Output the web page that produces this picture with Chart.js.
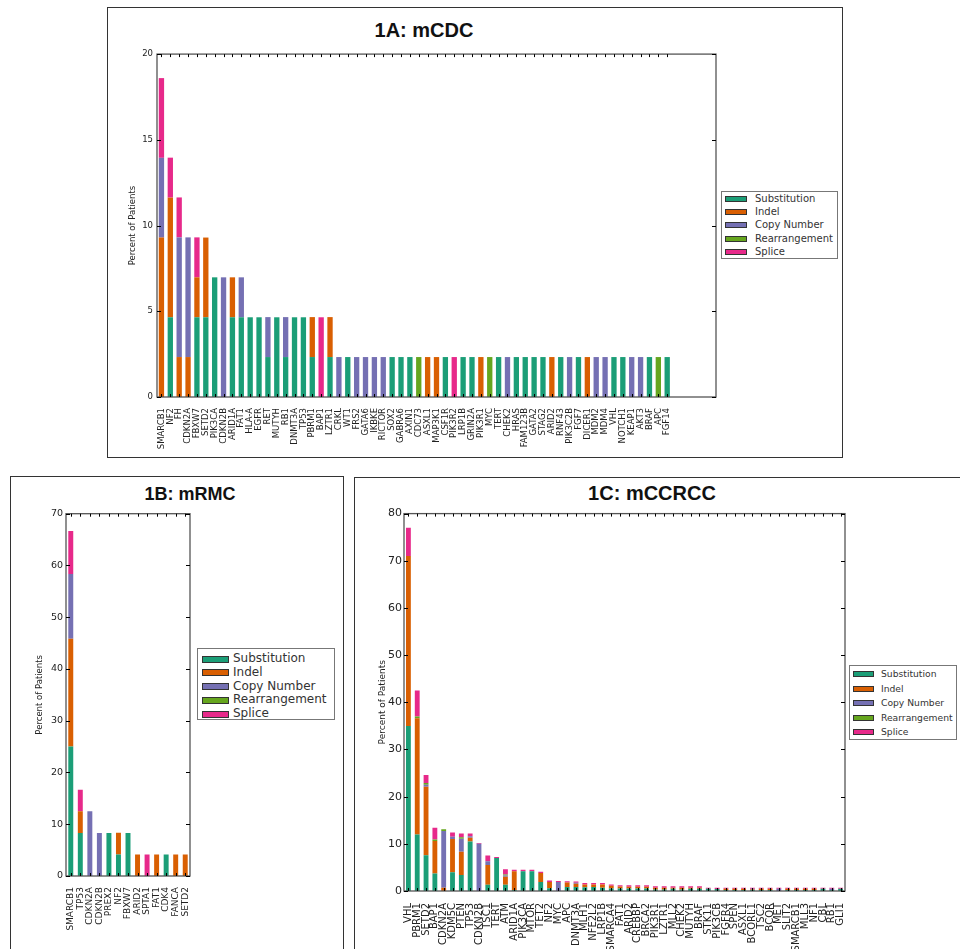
<!DOCTYPE html>
<html>
<head>
<meta charset="utf-8">
<script src="https://cdn.jsdelivr.net/npm/chart.js@4/dist/chart.umd.min.js"></script>
<style>
  body { margin: 0; background: #fff; width: 960px; height: 949px; overflow: hidden; position: relative; font-family: 'DejaVu Sans', sans-serif; }
  .panel { position: absolute; border: 1.5px solid #333; box-sizing: border-box; }
  .title { position: absolute; font-family: 'Liberation Sans', Arial, sans-serif; font-weight: bold; color: #111; transform: translate(-50%, -50%); white-space: nowrap; }
  canvas { position: absolute; }
  .legend { position: absolute; border: 1px solid #777; background: #fff; box-sizing: border-box; color: #333; }
  .legend .row { position: absolute; white-space: nowrap; }
  .legend .sw { position: absolute; border: 0.8px solid #333; box-sizing: border-box; }
</style>
</head>
<body>
<div class="panel" style="left:107px; top:7px; width:736px; height:451px;"></div>
<div class="panel" style="left:10px; top:476px; width:334px; height:480px;"></div>
<div class="panel" style="left:354px; top:477px; width:612px; height:480px;"></div>

<div class="title" style="left:424px; top:30px; font-size:20px;">1A: mCDC</div>
<div class="title" style="left:190px; top:494px; font-size:18px;">1B: mRMC</div>
<div class="title" style="left:652px; top:493px; font-size:20px;">1C: mCCRCC</div>

<canvas id="chartA" width="606" height="412" style="left:112px; top:45px;"></canvas>
<canvas id="chartB" width="178" height="444" style="left:14px; top:505px;"></canvas>
<canvas id="chartC" width="489" height="444" style="left:358px; top:505px;"></canvas>

<div id="legA" class="legend" style="left:721px; top:191px; width:117px; height:68px;"></div>
<div id="legB" class="legend" style="left:197px; top:648px; width:138px; height:72px;"></div>
<div id="legC" class="legend" style="left:849px; top:665px; width:108px; height:75px;"></div>

<script>
// mutation types and colours
const types = ['Substitution', 'Indel', 'Copy Number', 'Rearrangement', 'Splice'];
const colors = ['#1b9e77', '#d95f02', '#7570b3', '#66a61e', '#e7298a'];

// 1A: mCDC (percent of patients)
const genesA = ['SMARCB1','NF2','FH','CDKN2A','FBXW7','SETD2','PIK3CA','CDKN2B','ARID1A','FAT1','HLA-A','EGFR','RET','MUTYH','RB1','DNMT3A','TP53','PBRM1','BAP1','LZTR1',
  'CRKL','WT1','FRS2','GATA6','IKBKE','RICTOR','SOX2','GABRA6','AXIN1','CDC73','ASXL1','MAP3K1','CSF1R','PIK3R2','LRP1B','GRIN2A','PIK3R1','MYC','TERT','CHEK2',
  'HRAS','FAM123B','GATA2','STAG2','ARID2','RNF43','PIK3C2B','FGF7','DICER1','MDM2','MDM4','VHL','NOTCH1','KEAP1','AKT3','BRAF','APC','FGF14'];
const subA = [0,4.65,0,0,4.65,4.65,6.98,0,4.65,4.65,4.65,4.65,2.33,4.65,2.33,4.65,4.65,2.33,0,2.33,
  0,2.33,0,0,0,0,2.33,2.33,2.33,0,0,0,2.33,0,2.33,2.33,0,0,2.33,0,
  2.33,2.33,2.33,2.33,0,2.33,0,2.33,0,0,0,2.33,2.33,0,0,2.33,0,2.33];
const indelA = [9.30,6.98,2.33,2.33,2.33,4.65,0,0,2.33,0,0,0,0,0,0,0,0,2.33,0,2.33,
  0,0,0,0,0,0,0,0,0,0,2.33,2.33,0,0,0,0,2.33,0,0,0,
  0,0,0,0,2.33,0,0,0,2.33,0,0,0,0,0,0,0,0,0];
const cnA = [4.65,0,6.98,6.98,0,0,0,6.98,0,2.33,0,0,2.33,0,2.33,0,0,0,0,0,
  2.33,0,2.33,2.33,2.33,2.33,0,0,0,0,0,0,0,0,0,0,0,0,0,2.33,
  0,0,0,0,0,0,2.33,0,0,2.33,2.33,0,0,2.33,2.33,0,0,0];
const rearrA = [0,0,0,0,0,0,0,0,0,0,0,0,0,0,0,0,0,0,0,0,
  0,0,0,0,0,0,0,0,0,2.33,0,0,0,0,0,0,0,2.33,0,0,
  0,0,0,0,0,0,0,0,0,0,0,0,0,0,0,0,2.33,0];
const spliceA = [4.65,2.33,2.33,0,2.33,0,0,0,0,0,0,0,0,0,0,0,0,0,4.65,0,
  0,0,0,0,0,0,0,0,0,0,0,0,0,2.33,0,0,0,0,0,0,
  0,0,0,0,0,0,0,0,0,0,0,0,0,0,0,0,0,0];

// 1B: mRMC
const genesB = ['SMARCB1','TP53','CDKN2A','CDKN2B','PREX2','NF2','FBXW7','ARID2','SPTA1','FAT1','CDK4','FANCA','SETD2'];
const subB    = [25, 8.33, 0, 0, 8.33, 4.17, 8.33, 0, 0, 0, 4.17, 0, 0];
const indelB  = [20.83, 4.17, 0, 0, 0, 4.17, 0, 4.17, 0, 4.17, 0, 4.17, 4.17];
const cnB     = [12.5, 0, 12.5, 8.33, 0, 0, 0, 0, 0, 0, 0, 0, 0];
const rearrB  = [0, 0, 0, 0, 0, 0, 0, 0, 0, 0, 0, 0, 0];
const spliceB = [8.33, 4.17, 0, 0, 0, 0, 0, 0, 4.17, 0, 0, 0, 0];

// 1C: mCCRCC
const genesC = ['VHL','PBRM1','SETD2','BAP1','CDKN2A','KDM5C','PTEN','TP53','CDKN2B','TSC1','TERT','ATM','ARID1A','PIK3CA','MTOR','TET2','NF2','MYC','APC','DNMT3A',
  'MLH1','NFE2L2','LRP1B','SMARCA4','FAT1','ARID2','CREBBP','BRCA2','PIK3R1','LZTR1','MLL2','CHEK2','MUTYH','BRAF','STK11','PIK3CB','FGFR4','SPEN','ASXL1','BCORL1',
  'TSC2','BCOR','MET','SLIT2','SMARCB1','MLL3','NF1','CBL','RB1','GLI1'];
const subC = [35,12,7.6,3.7,0,4,3.4,10.5,0,1.3,7,1.3,0.2,4.2,4.2,1.9,0.6,0,0.85,0.85,
  0.8,0.85,0.7,0.55,0.55,0.55,0.55,0.55,0.3,0.3,0.5,0.3,0.5,0.5,0.5,0.45,0.2,0.2,0.2,0.2,
  0.2,0.2,0,0.2,0.2,0.2,0.2,0.5,0.2,0.5];
const indelC = [36,24.6,14.5,6.9,0.7,7,4.9,0.8,0,4.2,0,1.7,4,0,0,1.9,1.3,0,0.95,0.7,
  0.6,0.55,0.7,0.55,0.4,0.35,0.35,0.35,0.4,0.4,0.2,0.4,0.2,0.2,0,0,0.3,0.3,0.3,0.1,
  0.3,0.3,0,0.3,0.3,0.3,0.3,0,0,0];
const cnC = [0,0,0.4,0,12,0.5,2.8,0.3,10,0.8,0,0.3,0,0,0,0,0,1.9,0,0.2,
  0,0,0,0,0,0,0,0,0,0,0,0,0,0,0,0,0,0,0,0.2,
  0,0,0.5,0,0,0,0,0,0.3,0];
const rearrC = [0,0.4,0.4,0.3,0.4,0,0.3,0,0,0,0,0.2,0,0,0,0,0,0,0,0,
  0,0,0,0,0,0,0,0,0,0,0,0,0,0,0,0,0,0,0,0,
  0,0,0,0,0,0,0,0,0,0];
const spliceC = [6,5.5,1.7,2.5,0,0.9,0.8,0.6,0.2,1.2,0.2,1.1,0.3,0.3,0.3,0.3,0.3,0.2,0.25,0.25,
  0.3,0.3,0.3,0.3,0.25,0.3,0.3,0.3,0.3,0.3,0.3,0.3,0.3,0.3,0.2,0.25,0.2,0.2,0.2,0.2,
  0.2,0.2,0.2,0.2,0.2,0.2,0.2,0.2,0.2,0.2];

const framePlugin = {
  id: 'frame',
  afterDraw(chart) {
    const ctx = chart.ctx, a = chart.chartArea, sx = chart.scales.x, sy = chart.scales.y;
    ctx.save();
    ctx.strokeStyle = '#555';
    ctx.lineWidth = 1.3;
    ctx.strokeRect(a.left, a.top, a.right - a.left, a.bottom - a.top);
    ctx.strokeStyle = '#000';
    ctx.lineWidth = 1;
    ctx.beginPath();
    sx.ticks.forEach((t, i) => {
      if (!chart.data.labels[i]) return;
      const x = Math.round(sx.getPixelForTick(i)) + 0.5;
      ctx.moveTo(x, a.bottom); ctx.lineTo(x, a.bottom - 3);
      ctx.moveTo(x, a.top); ctx.lineTo(x, a.top + 3);
    });
    sy.ticks.forEach((t, i) => {
      const y = Math.round(sy.getPixelForTick(i)) + 0.5;
      ctx.moveTo(a.left, y); ctx.lineTo(a.left + 4, y);
      ctx.moveTo(a.right, y); ctx.lineTo(a.right - 4, y);
    });
    ctx.stroke();
    ctx.restore();
  }
};

function makeChart(id, labels, series, cfg) {
  const datasets = series.map((d, k) => ({
    label: types[k],
    data: d,
    backgroundColor: colors[k],
    borderWidth: 0,
    barPercentage: cfg.bar,
    categoryPercentage: 1.0
  }));
  return new Chart(document.getElementById(id).getContext('2d'), {
    type: 'bar',
    data: { labels: labels, datasets: datasets },
    options: {
      responsive: false,
      animation: false,
      layout: { padding: { top: 8, right: 2, left: 0, bottom: 0 } },
      plugins: { legend: { display: false }, tooltip: { enabled: false } },
      scales: {
        x: {
          stacked: true,
          grid: { display: false },
          border: { display: false },
          ticks: {
            autoSkip: false, minRotation: 90, maxRotation: 90, padding: cfg.xPad,
            color: '#222', font: { family: 'DejaVu Sans', size: cfg.xFont }
          },
          afterFit: s => { s.height = cfg.xHeight; s.paddingLeft = 0; s.paddingRight = 0; }
        },
        y: {
          stacked: true,
          min: 0, max: cfg.yMax,
          grid: { display: false, drawTicks: false },
          border: { display: false },
          ticks: {
            stepSize: cfg.yStep, padding: cfg.yPad,
            color: '#222', font: { family: 'DejaVu Sans', size: cfg.yFont }
          },
          title: {
            display: true, text: 'Percent of Patients', color: '#222',
            font: { family: 'DejaVu Sans', size: cfg.titleFont },
            padding: { top: cfg.titlePad, bottom: 0 }
          },
          afterFit: s => { s.width = cfg.yWidth; }
        }
      }
    },
    plugins: [framePlugin]
  });
}

function makeLegend(id, cfg) {
  const box = document.getElementById(id);
  types.forEach((t, k) => {
    const y = cfg.first + k * cfg.step;
    const sw = document.createElement('div');
    sw.className = 'sw';
    sw.style.cssText = `left:${cfg.swLeft}px; top:${y - cfg.swH / 2}px; width:${cfg.swW}px; height:${cfg.swH}px; background:${colors[k]};`;
    box.appendChild(sw);
    const row = document.createElement('div');
    row.className = 'row';
    row.textContent = t;
    row.style.cssText = `left:${cfg.textLeft}px; top:${y}px; font-size:${cfg.font}px; transform: translateY(-55%);`;
    box.appendChild(row);
  });
}

const labelsA = genesA.concat(['', '', '', '', '']);
makeChart('chartA', labelsA, [subA, indelA, cnA, rearrA, spliceA],
  { bar: 0.6, xFont: 8.5, xPad: 3, xHeight: 60, yMax: 20, yStep: 5, yFont: 8.5, yPad: 4, yWidth: 45, titleFont: 8.5, titlePad: 16 });
makeChart('chartB', genesB, [subB, indelB, cnB, rearrB, spliceB],
  { bar: 0.52, xFont: 9, xPad: 3, xHeight: 73, yMax: 70, yStep: 10, yFont: 9.5, yPad: 3, yWidth: 52, titleFont: 8.5, titlePad: 21 });
makeChart('chartC', genesC, [subC, indelC, cnC, rearrC, spliceC],
  { bar: 0.55, xFont: 10, xPad: 4, xHeight: 58, yMax: 80, yStep: 10, yFont: 11, yPad: 2, yWidth: 46, titleFont: 9, titlePad: 19 });

makeLegend('legA', { first: 7, step: 13.2, swLeft: 3, swW: 22, swH: 6, textLeft: 33, font: 10 });
makeLegend('legB', { first: 10, step: 13.8, swLeft: 4, swW: 27, swH: 7, textLeft: 35, font: 12 });
makeLegend('legC', { first: 8, step: 14.5, swLeft: 3, swW: 21, swH: 6, textLeft: 31, font: 9.2 });
</script>
</body>
</html>
